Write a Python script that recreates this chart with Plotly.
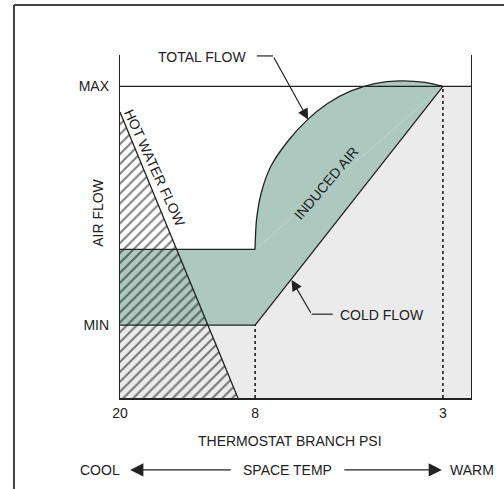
import plotly.graph_objects as go

# ---- data (x: position along thermostat scale 0..100, y: air flow 0..100 = MAX) ----
tick_pos = [0, 38.5, 92.0]
tick_labels = ["20", "8", "3"]
flow_pos = [23.4, 100]
flow_labels = ["MIN", "MAX"]
min_flow = 23.4
upper_flat = 47.7
max_flow = 100
x_8 = 38.5
x_3 = 92.0

# hot water flow line (start at left axis, end at bottom)
hw_x = [0, 33.6]
hw_y = [91.8, 0]

# total flow curve
arc_x = [38.46, 38.89, 40.31, 43.02, 47.86, 53.22, 59.12, 65.64, 72.59, 79.77, 86.89, 92.0]
arc_y = [47.67, 57.14, 66.13, 74.48, 82.50, 89.12, 94.51, 98.49, 100.93, 101.77, 101.28, 100.0]

GREEN = "#adc9bf"
GRAY = "#ebebeb"
INK = "#222222"
FONT = "Liberation Sans, Arial, Helvetica, sans-serif"
SMOOTH = 0.7

fig = go.Figure()

def skip(**kw):
    kw.setdefault("hoverinfo", "skip")
    kw.setdefault("showlegend", False)
    return go.Scatter(**kw)

# gray region
fig.add_trace(skip(
    x=[0, 0, x_8, x_3, 100, 100, 0],
    y=[0, min_flow, min_flow, max_flow, max_flow, 0, 0],
    fill="toself", fillcolor=GRAY, mode="lines", line=dict(width=0)))

# green: flat part + region below the chord of the total-flow arc
fig.add_trace(skip(
    x=[0, 0, arc_x[0], arc_x[-1], x_3, x_8, 0],
    y=[min_flow, upper_flat, arc_y[0], arc_y[-1], max_flow, min_flow, min_flow],
    fill="toself", fillcolor=GREEN, mode="lines", line=dict(width=0)))
# green: segment between chord and the total-flow arc
fig.add_trace(skip(
    x=arc_x, y=arc_y, mode="lines", line=dict(width=0, shape="spline", smoothing=SMOOTH),
    fill="toself", fillcolor=GREEN))

# hatched hot-water triangle
fig.add_trace(skip(
    x=[0, 0, hw_x[1], 0], y=[0, hw_y[0], 0, 0],
    fill="toself", fillcolor="rgba(0,0,0,0)", mode="lines", line=dict(width=0),
    fillpattern=dict(shape="/", fgcolor="#000000", bgcolor="rgba(0,0,0,0)",
                     size=7, solidity=0.28)))

def line(x, y, width=1.3, dash=None, shape="linear", color=INK):
    ln = dict(color=color, width=width, dash=dash, shape=shape)
    if shape == "spline":
        ln["smoothing"] = SMOOTH
    fig.add_trace(skip(x=x, y=y, mode="lines", line=ln))

line(hw_x, hw_y)
line([0, 100], [max_flow, max_flow])
line([0, x_8], [upper_flat, upper_flat])
line(arc_x, arc_y, shape="spline")
line([0, x_8, x_3], [min_flow, min_flow, max_flow])
line([x_8, x_8], [0, min_flow], width=1.5, dash="3px,3px", color="#111111")
line([x_3, x_3], [0, max_flow], width=1.5, dash="3px,3px", color="#111111")

tf = dict(family=FONT, size=14, color=INK)
ann = []
c = dict(showarrow=False, font=tf, xanchor="center", yanchor="middle")
# text labels inside the plot
ann.append(dict(x=23.4, y=109.6, text="TOTAL FLOW", **c))
ann.append(dict(x=74.6, y=26.6, text="COLD FLOW", **c))
ann.append(dict(x=9.9, y=73.8, text="HOT WATER FLOW", textangle=65.4, **c))
ann.append(dict(x=58.8, y=69.0, text="INDUCED AIR", textangle=-49.6, **c))
# text labels outside the plot (domain coordinates)
dom = dict(xref="x domain", yref="y domain", **c)
ann.append(dict(x=-0.063, y=0.5395, text="AIR FLOW", textangle=-90, **dom))
ann.append(dict(x=0.484, y=-0.1253, text="THERMOSTAT BRANCH PSI", **dom))
ann.append(dict(x=-0.057, y=-0.2098, text="COOL", **dom))
ann.append(dict(x=0.476, y=-0.2098, text="SPACE TEMP", **dom))
ann.append(dict(x=1.003, y=-0.2098, text="WARM", **dom))
# leader arrows
arr = dict(text="", showarrow=True, arrowhead=2, arrowwidth=1.2, arrowcolor=INK)
ann.append(dict(x=53.6, y=89.4, ax=43.6, ay=109.8, axref="x", ayref="y", arrowsize=1.8, **arr))
ann.append(dict(x=48.9, y=37.9, ax=54.6, ay=26.9, axref="x", ayref="y", arrowsize=1.8, **arr))
ann.append(dict(xref="x domain", yref="y domain", axref="x domain", ayref="y domain",
                x=0.029, y=-0.2098, ax=0.32, ay=-0.2098, arrowsize=2.2, **arr))
ann.append(dict(xref="x domain", yref="y domain", axref="x domain", ayref="y domain",
                x=0.917, y=-0.2098, ax=0.635, ay=-0.2098, arrowsize=2.2, **arr))

shapes = [
    dict(type="line", xref="x", yref="y", x0=39.0, x1=43.6, y0=109.8, y1=109.8,
         line=dict(color=INK, width=1.2)),
    dict(type="line", xref="x", yref="y", x0=54.6, x1=60.6, y0=26.9, y1=26.9,
         line=dict(color=INK, width=1.2)),
    # outer frame
    dict(type="line", xref="paper", yref="paper", x0=-0.302, x1=-0.302, y0=-0.27, y1=1.146,
         line=dict(color="#444444", width=2)),
    dict(type="line", xref="paper", yref="paper", x0=-0.302, x1=1.2, y0=1.146, y1=1.146,
         line=dict(color="#444444", width=2)),
]

fig.update_layout(
    width=504, height=489,
    margin=dict(l=120, r=33, t=55, b=91),
    paper_bgcolor="white", plot_bgcolor="white",
    annotations=ann, shapes=shapes,
    font=tf,
    xaxis=dict(range=[0, 100], tickvals=tick_pos, ticktext=tick_labels,
               showgrid=False, zeroline=False, showline=True, linecolor=INK, linewidth=2,
               ticks="", tickfont=tf, ticklabelstandoff=1, fixedrange=True),
    yaxis=dict(range=[0, 110.1], tickvals=flow_pos, ticktext=flow_labels,
               showgrid=False, zeroline=False, showline=True, mirror=True,
               linecolor=INK, linewidth=1.3, ticks="", tickfont=tf, ticklabelstandoff=7,
               fixedrange=True),
)

fig.write_html("out.html", config={"displayModeBar": False},
               post_script="document.body.style.margin='0';document.body.style.overflow='hidden';")
